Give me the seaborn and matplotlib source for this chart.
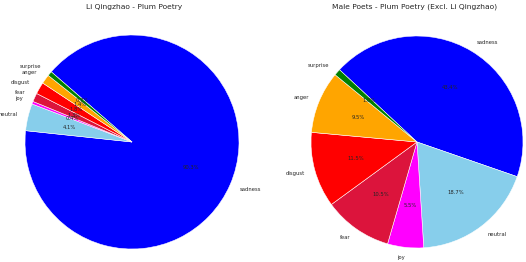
import matplotlib
matplotlib.use('Agg')
import matplotlib.pyplot as plt
import seaborn as sns

sns.set_style('white')

# emotion categories (clockwise from sadness)
emotions = ['sadness', 'neutral', 'joy', 'fear', 'disgust', 'anger', 'surprise']
colors = ['blue', 'skyblue', 'magenta', 'crimson', 'red', 'orange', 'green']

# share of poems per emotion (%)
li_qingzhao = [90.3, 4.1, 0.4, 1.3, 1.8, 1.4, 0.7]
male_poets = [43.4, 18.7, 5.5, 10.5, 11.5, 9.5, 1.0]

W, H = 526, 262
fig = plt.figure(figsize=(W / 37.6, H / 37.6))


def add_pie_axes(cx, cy, r):
    # pie uses limits of +-1.25, so the axes side is 2.5 * radius
    side = 2.5 * r
    return fig.add_axes([(cx - side / 2) / W, (H - cy - side / 2) / H, side / W, side / H])


ax1 = add_pie_axes(132, 142, 107)
ax1.pie(li_qingzhao, labels=emotions, colors=colors, autopct='%1.1f%%',
        startangle=139, counterclock=False)
fig.text(134 / W, 1 - 7 / H, 'Li Qingzhao - Plum Poetry', ha='center', va='center', fontsize=14.5)

ax2 = add_pie_axes(417, 142, 106)
ax2.pie(male_poets, labels=emotions, colors=colors, autopct='%1.1f%%',
        startangle=137, counterclock=False)
fig.text(415 / W, 1 - 7 / H, 'Male Poets - Plum Poetry (Excl. Li Qingzhao)',
         ha='center', va='center', fontsize=14.5)

plt.savefig('out.png', dpi=37.6)
plt.close()
